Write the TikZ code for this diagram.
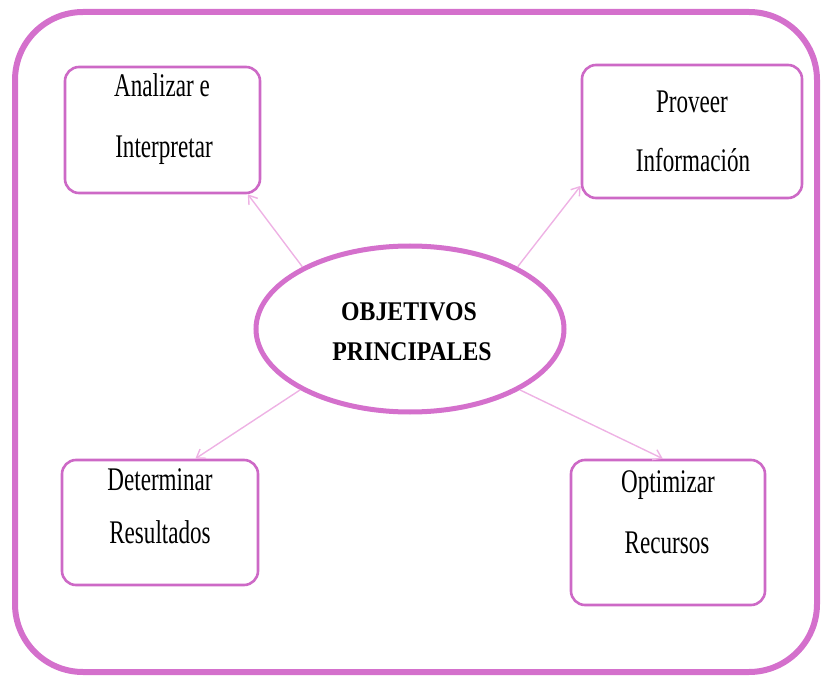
\documentclass[tikz,border=0pt]{standalone}
\usepackage{fontspec}
\setmainfont{Liberation Serif}[FakeStretch=0.7]
\newfontfamily\titlefont{Liberation Serif}[FakeStretch=0.88]
\usetikzlibrary{shapes.geometric,arrows.meta}
\definecolor{orch}{RGB}{212,112,204}
\definecolor{boxpink}{RGB}{205,105,198}
\definecolor{lightpink}{RGB}{238,178,228}
\tikzset{
  frame/.style={draw=orch, line width=6pt, rounded corners=68pt, minimum width=802pt, minimum height=660pt, inner sep=0pt},
  goalbox/.style={draw=boxpink, line width=2.6pt, rounded corners=14pt, inner sep=0pt},
  centre/.style={ellipse, draw=orch, line width=5pt, minimum width=308pt, minimum height=166pt, inner sep=0pt},
  boxtext/.style={anchor=base, inner sep=0pt, font=\fontsize{33}{40}\selectfont},
  titletext/.style={anchor=base, inner sep=0pt, font=\titlefont\bfseries\fontsize{27}{32}\selectfont},
  link/.style={draw=lightpink, line width=1.4pt, -{Straight Barb[length=8pt,width=11pt]}}
}
\begin{document}
\begin{tikzpicture}[x=1pt,y=-1pt]
\useasboundingbox (0,0) rectangle (825,679);
\node[frame] (fr) at (416,342) {};

\node[goalbox, minimum width=195pt, minimum height=126pt] (b1) at (162.5,130) {};
\node[goalbox, minimum width=220pt, minimum height=133pt] (b2) at (692,131.5) {};
\node[goalbox, minimum width=196pt, minimum height=125pt] (b3) at (160,522.5) {};
\node[goalbox, minimum width=194pt, minimum height=145pt] (b4) at (668,532.5) {};

\node[boxtext] (t1a) at (162,97) {Analizar e};
\node[boxtext] (t1b) at (164,158) {Interpretar};
\node[boxtext] (t2a) at (692,113) {Proveer};
\node[boxtext] (t2b) at (693,172) {Información};
\node[boxtext] (t3a) at (160,490) {Determinar};
\node[boxtext] (t3b) at (160,543) {Resultados};
\node[boxtext] (t4a) at (668,492) {Optimizar};
\node[boxtext] (t4b) at (667,553) {Recursos};

\node[centre] (e) at (410,329) {};
\node[titletext] (o1) at (409,320) {OBJETIVOS};
\node[titletext] (o2) at (412,360) {PRINCIPALES};

\draw[link] (e.150) -- (b1.-37);
\draw[link] (e.30) -- (b2.206);
\draw[link] (e.209) -- (b3.61);
\draw[link] (e.331) -- (b4.94);
\end{tikzpicture}
\end{document}
